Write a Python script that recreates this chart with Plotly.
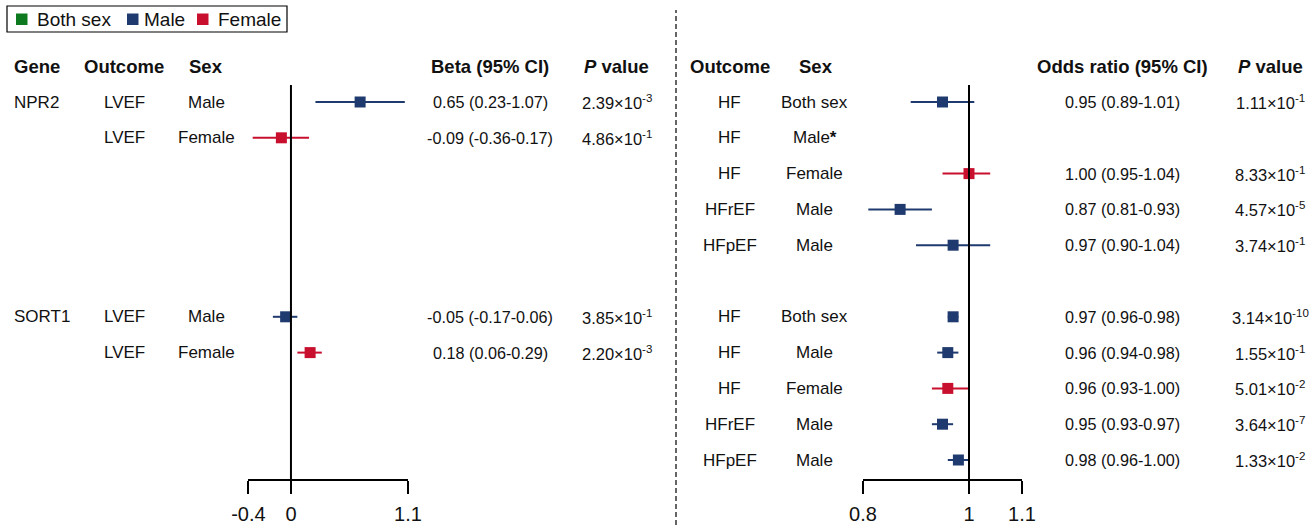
import plotly.graph_objects as go

W, H = 1316, 525
NAVY = "#1f3a6e"
RED = "#c8102e"
GREEN = "#0e7a1f"
TXT = "#111111"
FONT = "Arial, Liberation Sans, sans-serif"

# ---------------- data: left panel (Beta) ----------------
left_gene = ["NPR2", "", "SORT1", ""]
left_outcome = ["LVEF", "LVEF", "LVEF", "LVEF"]
left_sex = ["Male", "Female", "Male", "Female"]
left_row = [0, 1, 6, 7]
left_beta = [0.65, -0.09, -0.05, 0.18]
left_lo = [0.23, -0.36, -0.17, 0.06]
left_hi = [1.07, 0.17, 0.06, 0.29]
left_p_mant = [2.39, 4.86, 3.85, 2.20]
left_p_exp = [-3, -1, -1, -3]
left_ticks = [-0.4, 0, 1.1]
left_ticktext = ["-0.4", "0", "1.1"]

# ---------------- data: right panel (Odds ratio) ----------------
right_outcome = ["HF", "HF", "HF", "HFrEF", "HFpEF", "HF", "HF", "HF", "HFrEF", "HFpEF"]
right_sex = ["Both sex", "Male*", "Female", "Male", "Male", "Both sex", "Male", "Female", "Male", "Male"]
right_row = [0, 1, 2, 3, 4, 6, 7, 8, 9, 10]
right_or = [0.95, None, 1.00, 0.87, 0.97, 0.97, 0.96, 0.96, 0.95, 0.98]
right_lo = [0.89, None, 0.95, 0.81, 0.90, 0.96, 0.94, 0.93, 0.93, 0.96]
right_hi = [1.01, None, 1.04, 0.93, 1.04, 0.98, 0.98, 1.00, 0.97, 1.00]
right_p_mant = [1.11, None, 8.33, 4.57, 3.74, 3.14, 1.55, 5.01, 3.64, 1.33]
right_p_exp = [-1, None, -1, -5, -1, -10, -1, -2, -7, -2]
right_ticks = [0.8, 1, 1.1]
right_ticktext = ["0.8", "1", "1.1"]

legend_names = ["Both sex", "Male", "Female"]
legend_colors = [GREEN, NAVY, RED]

# ---------------- layout geometry (pixels) ----------------
ROW0_PX, ROW_H = 102, 35.8
AXIS_PX = 479
y_top = -ROW0_PX / ROW_H
y_bot = (AXIS_PX - ROW0_PX) / ROW_H


def color_of(sex):
    return RED if sex.startswith("Female") else NAVY


fig = go.Figure()


def add_forest(est, lo, hi, sexes, rows, xa):
    for col in (NAVY, RED):
        xs, ys, ep, em = [], [], [], []
        for e, l, h, s, r in zip(est, lo, hi, sexes, rows):
            if e is None or color_of(s) != col:
                continue
            xs.append(e); ys.append(r); ep.append(h - e); em.append(e - l)
        if not xs:
            continue
        fig.add_trace(go.Scatter(
            x=xs, y=ys, mode="markers", xaxis=xa, yaxis="y",
            marker=dict(symbol="square", size=11, color=col),
            error_x=dict(type="data", array=ep, arrayminus=em, color=col,
                         thickness=2, width=0, visible=True),
            showlegend=False, hoverinfo="skip"))


add_forest(left_beta, left_lo, left_hi, left_sex, left_row, "x")
add_forest(right_or, right_lo, right_hi, right_sex, right_row, "x2")

ann = []


def txt(px, row, text, size=17, bold=False, anchor="center", color=TXT, yref="y"):
    if bold:
        text = "<b>" + text + "</b>"
    ann.append(dict(x=px / W, xref="paper", y=row, yref=yref, text=text,
                    showarrow=False, xanchor=anchor, yanchor="middle",
                    font=dict(family=FONT, size=size, color=color)))


def ptxt(m, e):
    return f"{m:.2f}×10<sup>{e}</sup>"


# headers
HR = -0.98
HS = 18.5
txt(12, HR, "Gene", HS, True, "left")
txt(124, HR, "Outcome", HS, True)
txt(206, HR, "Sex", HS, True)
txt(490, HR, "Beta (95% CI)", HS, True)
txt(616, HR, "<i>P</i> value", HS, True)
txt(730, HR, "Outcome", HS, True)
txt(816, HR, "Sex", HS, True)
txt(1122, HR, "Odds ratio (95% CI)", HS, True)
txt(1270, HR, "<i>P</i> value", HS, True)

LS, NS, PS = 17, 16.2, 16.5
for g, o, s, r, b, l, h, m, e in zip(left_gene, left_outcome, left_sex, left_row,
                                     left_beta, left_lo, left_hi, left_p_mant, left_p_exp):
    if g:
        txt(12, r, g, LS, anchor="left")
    txt(124, r, o, LS)
    txt(206, r, s, LS)
    txt(490, r, f"{b:.2f} ({l:.2f}-{h:.2f})", NS)
    txt(617, r, ptxt(m, e), PS)

for o, s, r, v, l, h, m, e in zip(right_outcome, right_sex, right_row, right_or,
                                  right_lo, right_hi, right_p_mant, right_p_exp):
    txt(730, r, o, LS)
    label = s.replace("*", "<b>*</b>")
    txt(815, r, label, LS)
    if v is not None:
        txt(1122, r, f"{v:.2f} ({l:.2f}-{h:.2f})", NS)
        txt(1270, r, ptxt(m, e), PS)

shapes = [
    dict(type="line", xref="x", yref="y", x0=0, x1=0, y0=-0.475, y1=y_bot,
         line=dict(color="black", width=2)),
    dict(type="line", xref="x2", yref="y", x0=1, x1=1, y0=-0.475, y1=y_bot,
         line=dict(color="black", width=2)),
    dict(type="line", xref="paper", yref="paper", x0=676 / W, x1=676 / W,
         y0=0, y1=1 - 10 / H, line=dict(color="#333333", width=1.5, dash="5px,3px")),
    # legend frame
    dict(type="rect", xref="paper", yref="paper", x0=7 / W, x1=287 / W,
         y0=1 - 32 / H, y1=1 - 6 / H, line=dict(color="black", width=1.2)),
]

# legend squares + labels
sq_x = [16, 127, 197]
lab_x = [35, 142, 216]
for name, col, sx, lx in zip(legend_names, legend_colors, sq_x, lab_x):
    shapes.append(dict(type="rect", xref="paper", yref="paper", x0=sx / W, x1=(sx + 11.5) / W,
                       y0=1 - 25 / H, y1=1 - 13.5 / H, line=dict(width=0), fillcolor=col))
    ann.append(dict(x=lx / W, xref="paper", y=1 - 19.5 / H, yref="paper", text=name,
                    showarrow=False, xanchor="left", yanchor="middle",
                    font=dict(family=FONT, size=19, color=TXT)))

axis_common = dict(showline=True, linecolor="black", linewidth=2, ticks="outside",
                   ticklen=13, tickwidth=2, tickcolor="black", showgrid=False,
                   zeroline=False, anchor="y", fixedrange=True, automargin=False,
                   ticklabelstandoff=3,
                   tickfont=dict(family=FONT, size=20, color=TXT))

fig.update_layout(
    template="none",
    width=W, height=H, margin=dict(l=0, r=0, t=0, b=0, pad=0, autoexpand=False),
    paper_bgcolor="white", plot_bgcolor="white", showlegend=False,
    xaxis=dict(domain=[248.4 / W, 408.0 / W], range=[-0.4, 1.1],
               tickvals=left_ticks, ticktext=left_ticktext, **axis_common),
    xaxis2=dict(domain=[863 / W, 1022 / W], range=[0.8, 1.1],
                tickvals=right_ticks, ticktext=right_ticktext, **axis_common),
    yaxis=dict(domain=[(H - AXIS_PX) / H, 1], range=[y_bot, y_top], visible=False,
               fixedrange=True, automargin=False),
    annotations=ann, shapes=shapes,
)

fig.write_html("out.html", config={"displayModeBar": False, "staticPlot": True},
               post_script="document.body.style.margin='0';document.body.style.overflow='hidden';")
